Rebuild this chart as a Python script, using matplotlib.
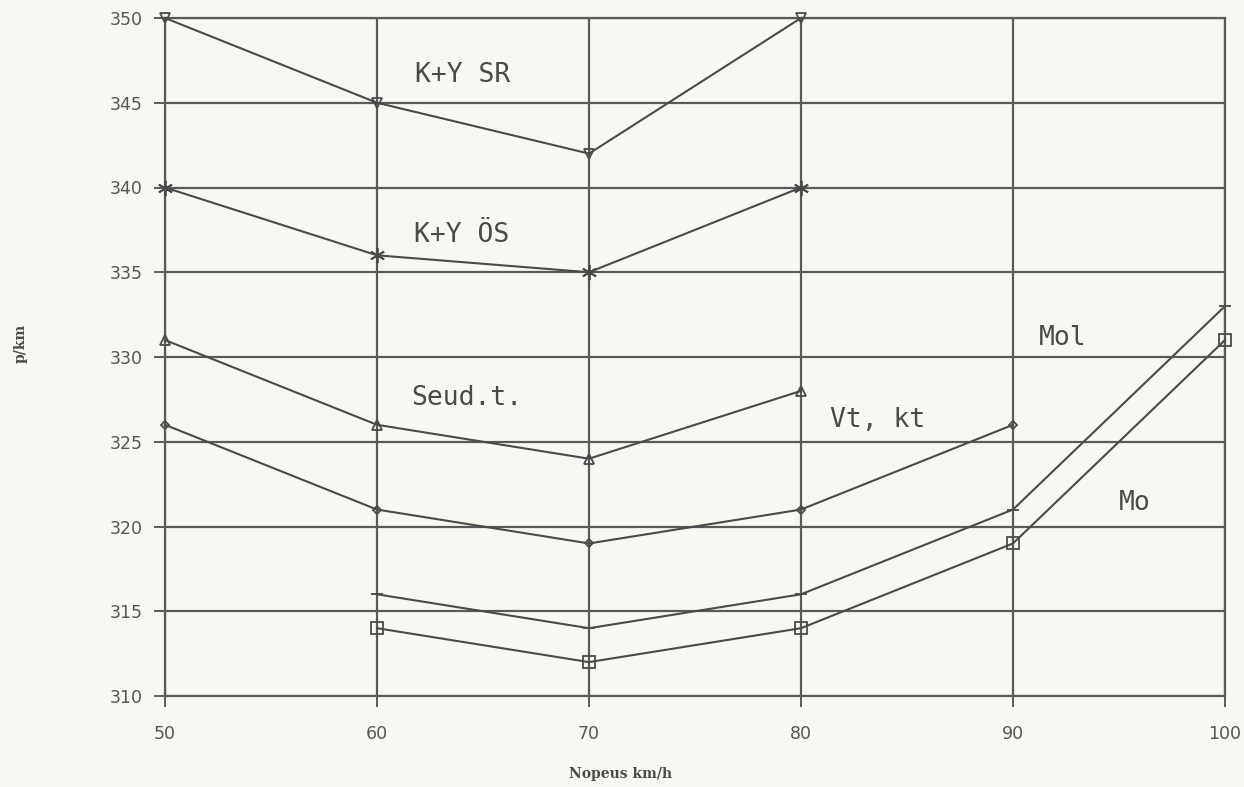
import matplotlib
matplotlib.use("Agg")
import matplotlib.pyplot as plt

# speed (km/h) and cost (p/km) per vehicle group
speed_4 = [50, 60, 70, 80]
speed_5a = [50, 60, 70, 80, 90]
speed_5b = [60, 70, 80, 90, 100]

ky_sr = [350, 345, 342, 350]
ky_os = [340, 336, 335, 340]
seud_t = [331, 326, 324, 328]
vt_kt = [326, 321, 319, 321, 326]
mol = [316, 314, 316, 321, 333]
mo = [314, 312, 314, 319, 331]

x_ticks = [50, 60, 70, 80, 90, 100]
y_ticks = [310, 315, 320, 325, 330, 335, 340, 345, 350]

BG = "#f8f8f3"
INK = "#4a4a4a"
GRID = "#5a5a5a"

fig = plt.figure(figsize=(12.44, 7.87), dpi=100, facecolor=BG)
ax = fig.add_axes([165 / 1244, 1 - 696 / 787, (1225 - 165) / 1244, (696 - 18) / 787])
ax.set_facecolor(BG)

line_kw = dict(color=INK, lw=1.5, mfc="none", mec=INK, mew=1.3, clip_on=False, zorder=3)
ax.plot(speed_4, ky_sr, marker="v", ms=7, **line_kw)
ax.plot(speed_4, ky_os, marker=(6, 2, 0), ms=11, **line_kw)
ax.plot(speed_4, seud_t, marker="^", ms=7, **line_kw)
ax.plot(speed_5a, vt_kt, marker="D", ms=4, **line_kw)
ax.plot(speed_5b, mol, marker="_", ms=9, **line_kw)
ax.plot(speed_5b, mo, marker="s", ms=8, **line_kw)

ax.set_xlim(50, 100)
ax.set_ylim(310, 350)
ax.set_xticks(x_ticks)
ax.set_yticks(y_ticks)
ax.grid(True, color=GRID, lw=1.6, zorder=1)
ax.set_axisbelow(True)
for s in ax.spines.values():
    s.set_color(GRID)
    s.set_linewidth(1.6)

ax.tick_params(axis="both", direction="out", length=8, width=1.4, color=GRID,
               labelcolor="#555555", labelsize=12.5)
ax.tick_params(axis="x", pad=13)
ax.tick_params(axis="y", pad=8)

ax.set_xlabel("Nopeus km/h", family="DejaVu Serif", fontsize=10, color=INK, weight="bold")
ax.xaxis.set_label_coords(0.43, -0.105)
ax.set_ylabel("p/km", family="DejaVu Serif", fontsize=10, color=INK, weight="bold")
ax.yaxis.set_label_coords(-0.13, 0.52)

mono = dict(family="DejaVu Sans Mono", fontsize=19, color=INK, ha="center", va="center")
ax.text(64.06, 346.66, "K+Y SR", **mono)
ax.text(64.0, 337.2, "K+Y ÖS", **mono)
ax.text(64.25, 327.6, "Seud.t.", **mono)
ax.text(83.6, 326.3, "Vt, kt", **mono)
ax.text(92.36, 331.1, "Mol", **mono)
ax.text(95.75, 321.4, "Mo", **mono)

fig.savefig("out.png", dpi=100, facecolor=BG)
